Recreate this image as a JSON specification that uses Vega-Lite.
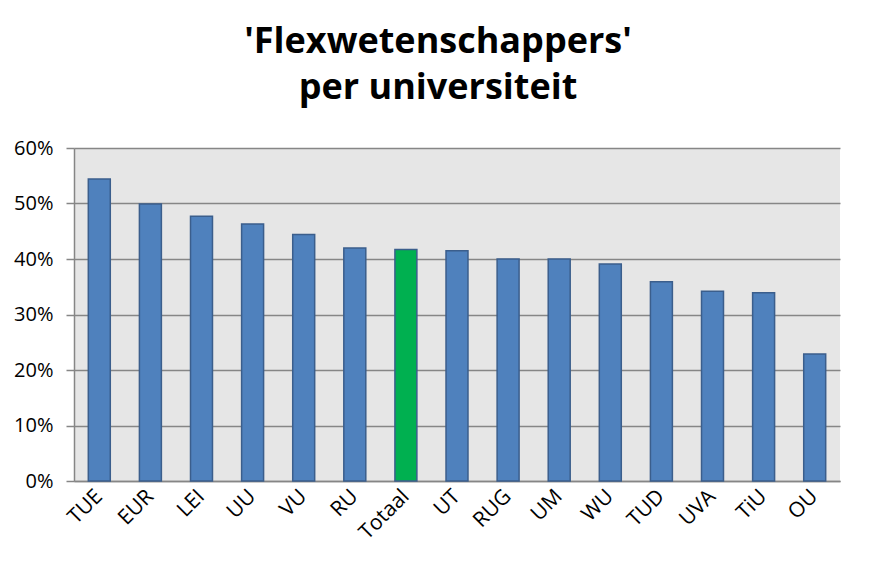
{
  "$schema": "https://vega.github.io/schema/vega-lite/v6.json",
  "autosize": "none",
  "padding": {"left": 74, "top": 148, "right": 35, "bottom": 103},
  "width": 766,
  "height": 333,
  "background": "white",
  "title": {
    "text": ["'Flexwetenschappers'", "per universiteit"],
    "anchor": "middle",
    "align": "center",
    "dx": -19,
    "font": "Open Sans",
    "fontSize": 36,
    "fontWeight": "bold",
    "color": "#000000",
    "lineHeight": 46,
    "offset": 31
  },
  "config": {
    "view": {"fill": "#E6E6E6", "stroke": null}
  },
  "data": {
    "values": [
      {"uni": "TUE", "pct": 54.4, "type": "uni"},
      {"uni": "EUR", "pct": 49.9, "type": "uni"},
      {"uni": "LEI", "pct": 47.7, "type": "uni"},
      {"uni": "UU", "pct": 46.3, "type": "uni"},
      {"uni": "VU", "pct": 44.4, "type": "uni"},
      {"uni": "RU", "pct": 42.0, "type": "uni"},
      {"uni": "Totaal", "pct": 41.7, "type": "totaal"},
      {"uni": "UT", "pct": 41.5, "type": "uni"},
      {"uni": "RUG", "pct": 40.0, "type": "uni"},
      {"uni": "UM", "pct": 40.0, "type": "uni"},
      {"uni": "WU", "pct": 39.1, "type": "uni"},
      {"uni": "TUD", "pct": 35.9, "type": "uni"},
      {"uni": "UVA", "pct": 34.2, "type": "uni"},
      {"uni": "TiU", "pct": 33.9, "type": "uni"},
      {"uni": "OU", "pct": 22.9, "type": "uni"}
    ]
  },
  "mark": {"type": "bar", "stroke": "#3B5E8C", "strokeWidth": 1.5},
  "encoding": {
    "x": {
      "field": "uni",
      "type": "nominal",
      "sort": null,
      "scale": {"paddingInner": 0.57, "paddingOuter": 0.28},
      "axis": {
        "title": null,
        "labelAngle": -45,
        "labelAlign": "right",
        "labelBaseline": "middle",
        "labelFont": "Open Sans",
        "labelFontSize": 21,
        "labelColor": "#000000",
        "labelPadding": 12,
        "ticks": false,
        "domainColor": "#868686",
        "domainWidth": 1.5,
        "grid": false
      }
    },
    "y": {
      "field": "pct",
      "type": "quantitative",
      "scale": {"domain": [0, 60], "nice": false},
      "axis": {
        "title": null,
        "values": [0, 10, 20, 30, 40, 50, 60],
        "labelExpr": "datum.value + '%'",
        "labelFont": "Open Sans",
        "labelFontSize": 20,
        "labelColor": "#000000",
        "labelPadding": 13,
        "tickSize": 8,
        "tickColor": "#868686",
        "tickWidth": 1.5,
        "domainColor": "#868686",
        "domainWidth": 1.5,
        "grid": true,
        "gridColor": "#868686",
        "gridWidth": 1.5
      }
    },
    "color": {
      "field": "type",
      "type": "nominal",
      "scale": {"domain": ["uni", "totaal"], "range": ["#4F81BD", "#00B050"]},
      "legend": null
    }
  }
}
